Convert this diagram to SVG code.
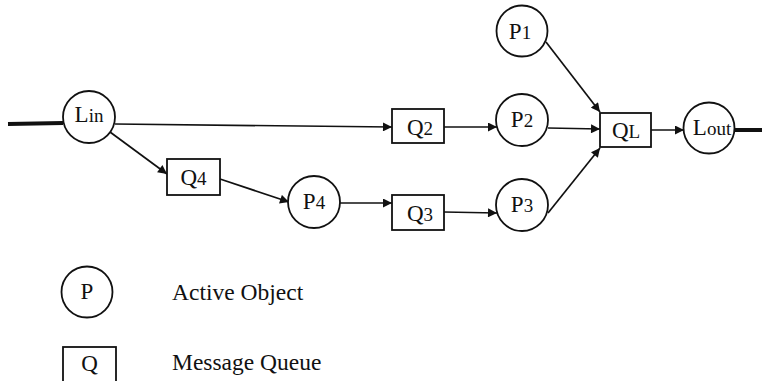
<svg xmlns="http://www.w3.org/2000/svg" width="762" height="381" viewBox="0 0 762 381">
<style>
.n{fill:#fff;stroke:#111;stroke-width:1.8}
.t{font-family:"Liberation Serif","Times New Roman",serif;font-size:23px;fill:#111;text-anchor:middle}
.s{font-size:19px}
.c{stroke:#111;stroke-width:1.7;fill:none;marker-end:url(#a)}
.thick{stroke:#111;stroke-width:4;fill:none}
.lg{font-family:"Liberation Serif","Times New Roman",serif;font-size:23.5px;fill:#111}
</style>
<defs>
<marker id="a" viewBox="0 0 10 10" refX="10" refY="5" markerWidth="10" markerHeight="9" markerUnits="userSpaceOnUse" orient="auto">
<path d="M0,0 L10,5 L0,10 z" fill="#111"/>
</marker>
</defs>
<rect width="762" height="381" fill="#fff"/>
<g id="connectors">
<line class="thick" x1="8" y1="124" x2="63" y2="123"/>
<line class="thick" x1="735" y1="130" x2="762" y2="130"/>
<line class="c" x1="115" y1="124" x2="392" y2="127"/>
<line class="c" x1="110" y1="132" x2="167" y2="174"/>
<line class="c" x1="220" y1="179" x2="289" y2="202"/>
<line class="c" x1="340" y1="203" x2="392" y2="203"/>
<line class="c" x1="444" y1="212" x2="497" y2="213"/>
<line class="c" x1="444" y1="127" x2="497" y2="127"/>
<line class="c" x1="548" y1="128" x2="600" y2="129"/>
<line class="c" x1="546" y1="42" x2="600" y2="112"/>
<line class="c" x1="548" y1="213" x2="600" y2="148"/>
<line class="c" x1="651" y1="130" x2="684" y2="130"/>
</g>
<g id="Lin"><circle class="n" cx="89" cy="117" r="26"/><text class="t" x="89" y="122">L<tspan class="s">in</tspan></text></g>
<g id="Q4"><rect class="n" x="167" y="159" width="53" height="36"/><text class="t" x="193.5" y="185">Q<tspan class="s">4</tspan></text></g>
<g id="Q2"><rect class="n" x="392" y="109" width="52" height="34"/><text class="t" x="420" y="135">Q<tspan class="s">2</tspan></text></g>
<g id="P4"><circle class="n" cx="314" cy="202" r="26"/><text class="t" x="314" y="209">P<tspan class="s">4</tspan></text></g>
<g id="Q3"><rect class="n" x="392" y="195" width="52" height="35"/><text class="t" x="420" y="221">Q<tspan class="s">3</tspan></text></g>
<g id="P1"><circle class="n" cx="522" cy="31" r="25.5"/><text class="t" x="520" y="39">P<tspan class="s">1</tspan></text></g>
<g id="P2"><circle class="n" cx="522" cy="120" r="26"/><text class="t" x="522" y="127">P<tspan class="s">2</tspan></text></g>
<g id="P3"><circle class="n" cx="522" cy="205" r="26"/><text class="t" x="522" y="212">P<tspan class="s">3</tspan></text></g>
<g id="QL"><rect class="n" x="600" y="113" width="51" height="34"/><text class="t" x="626" y="138">Q<tspan class="s">L</tspan></text></g>
<g id="Lout"><circle class="n" cx="709" cy="128" r="25.5"/><text class="t" x="712" y="135">L<tspan class="s">out</tspan></text></g>
<g id="legend-P"><circle class="n" cx="87" cy="292" r="25.5"/><text class="t" x="87" y="299">P</text><text class="lg" x="172" y="300">Active Object</text></g>
<g id="legend-Q"><rect class="n" x="63" y="347" width="53" height="40"/><text class="t" x="89.5" y="371">Q</text><text class="lg" x="172" y="370">Message Queue</text></g>
</svg>
